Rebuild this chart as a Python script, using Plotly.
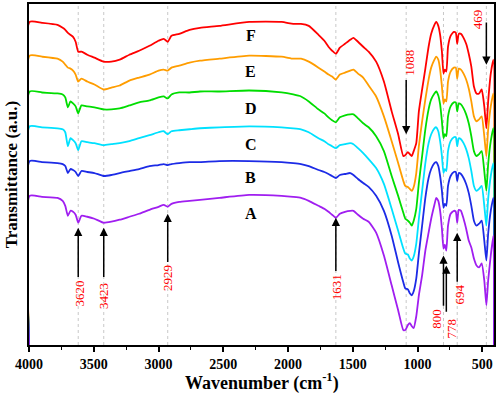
import plotly.graph_objects as go

# Wavenumber grid (cm^-1)
wavenumber = [4000, 3995, 3900, 3780, 3740, 3720, 3700, 3680, 3660, 3640, 3620, 3595, 3550, 3495, 3425,
              3364, 3300, 3225, 3150, 3070, 3000, 2960, 2929, 2900, 2840, 2760, 2680, 2530, 2300, 2050,
              1960, 1900, 1840, 1765, 1720, 1688, 1660, 1631, 1600, 1560, 1520, 1495, 1460, 1420, 1378,
              1320, 1260, 1200, 1150, 1110, 1095, 1075, 1060, 1045, 1030, 1010, 990, 965, 940, 915,
              895, 870, 856, 840, 826, 812, 800, 790, 778, 765, 745, 720, 705, 694, 682,
              665, 645, 625, 605, 585, 565, 545, 525, 505, 485, 469, 455, 435, 415, 410]

# Transmittance (a.u., stacked)
trans_F = [0, 325, 324, 322, 319, 317, 314, 312, 310, 305, 295, 295, 292, 289, 285, 285, 287, 292, 296, 301,
           306, 308, 305, 311, 313, 317, 319, 321, 325, 325, 323, 323, 321, 312, 306, 300, 296, 293, 299, 303,
           307, 309, 305, 300, 295, 285, 265, 235, 212, 190, 191, 194, 192, 190, 195, 203, 235, 257, 278, 300,
           313, 322, 325, 321, 312, 295, 273, 277, 275, 300, 311, 315, 314, 303, 313, 313, 309, 303, 293, 280,
           260, 253, 253, 257, 240, 218, 245, 273, 287, 0]
trans_E = [0, 291, 290, 288, 285, 282, 279, 278, 276, 272, 265, 268, 265, 262, 257, 259, 261, 266, 269, 272,
           276, 277, 276, 279, 281, 284, 286, 288, 291, 290, 288, 288, 285, 279, 275, 272, 270, 267, 272, 274,
           276, 277, 273, 269, 261, 250, 230, 205, 183, 165, 160, 159, 157, 155, 159, 173, 200, 225, 247, 267,
           279, 287, 290, 287, 277, 260, 243, 247, 245, 265, 275, 279, 279, 268, 278, 277, 273, 267, 258, 245,
           230, 225, 227, 230, 210, 190, 217, 240, 253, 0]
trans_D = [0, 255, 254, 253, 252, 249, 239, 245, 243, 240, 233, 241, 240, 239, 237, 237, 238, 241, 244, 246,
           249, 250, 248, 252, 254, 254, 255, 255, 256, 254, 252, 250, 245, 237, 233, 229, 226, 224, 229, 231,
           232, 232, 228, 223, 219, 210, 195, 170, 150, 133, 127, 125, 123, 120, 125, 137, 163, 190, 217, 237,
           247, 253, 255, 251, 242, 225, 208, 212, 210, 230, 240, 244, 244, 235, 243, 242, 238, 232, 223, 210,
           195, 190, 192, 195, 175, 155, 182, 205, 218, 0]
trans_C = [0, 220, 219, 218, 217, 214, 200, 208, 206, 203, 196, 205, 204, 203, 201, 202, 203, 205, 208, 211,
           214, 215, 212, 215, 216, 217, 218, 219, 220, 219, 218, 217, 214, 208, 205, 202, 200, 198, 201, 202,
           203, 202, 198, 193, 187, 178, 162, 137, 115, 97, 92, 91, 87, 85, 89, 102, 127, 155, 183, 203,
           212, 218, 219, 215, 205, 190, 173, 177, 175, 195, 205, 209, 209, 200, 208, 207, 203, 197, 188, 175,
           160, 155, 157, 160, 140, 120, 147, 170, 183, 0]
trans_B = [0, 185, 184, 183, 182, 180, 173, 177, 176, 174, 170, 175, 174, 173, 170, 171, 173, 175, 177, 180,
           181, 182, 181, 182, 183, 184, 184, 185, 185, 184, 183, 182, 180, 176, 174, 172, 170, 168, 171, 172,
           173, 171, 167, 163, 159, 150, 135, 110, 83, 63, 57, 56, 52, 50, 54, 67, 92, 120, 148, 168,
           177, 183, 184, 180, 170, 155, 138, 142, 140, 160, 170, 174, 174, 165, 173, 172, 168, 162, 153, 140,
           125, 120, 122, 125, 105, 85, 112, 135, 148, 0]
trans_A = [0, 150, 149, 148, 145, 140, 130, 135, 134, 131, 123, 130, 129, 127, 123, 124, 126, 129, 132, 136,
           139, 141, 139, 142, 144, 145, 146, 148, 151, 150, 149, 148, 145, 140, 137, 134, 131, 128, 132, 134,
           135, 135, 131, 127, 124, 113, 90, 60, 35, 15, 15, 20, 22, 19, 17, 29, 50, 70, 95, 113,
           127, 141, 148, 145, 135, 117, 97, 101, 95, 120, 132, 135, 134, 123, 136, 135, 127, 117, 105, 98,
           87, 80, 78, 82, 65, 40, 65, 90, 110, 0]

series_names = ["F", "E", "D", "C", "B", "A"]
series_values = [trans_F, trans_E, trans_D, trans_C, trans_B, trans_A]
series_colors = ["#FF0000", "#FF9D00", "#00DD00", "#00E1FF", "#1C2BE6", "#A01EF0"]

# Curve label positions (a.u.)
label_wn = 2287
label_t = {"F": 311, "E": 275, "D": 238, "C": 202, "B": 168, "A": 132}

# Peak markers: wavenumber, arrow head, arrow tail, label centre, label x shift (px)
peak_wn = [3620, 3423, 2929, 1631, 800, 778, 694, 1088, 469]
peak_head = [118, 118, 132, 128, 90, 80, 113, 212, 282]
peak_tail = [67, 67, 82, 73, 38, 32, 62, 268, 326]
peak_text_t = [52, 49, 67, 58, 27, 17, 51, 284, 328]
peak_text_shift = [1, 0, 0, 0, -7, 5, 2, 3, -8]
guide_wn = [3620, 3423, 2929, 1631, 1088, 800, 694, 469]

fig = go.Figure()
for name, vals, col in zip(series_names, series_values, series_colors):
    fig.add_trace(go.Scatter(x=wavenumber, y=vals, mode="lines", name=name,
                             line=dict(color=col, width=1.8, shape="spline", smoothing=0.5),
                             showlegend=False, hoverinfo="skip"))

shapes = []
for w in guide_wn:
    shapes.append(dict(type="line", xref="x", yref="paper", x0=w, x1=w, y0=0, y1=1,
                       line=dict(color="#c8c8c8", width=1, dash="dot"), layer="below"))

annotations = []
for name in series_names:
    annotations.append(dict(x=label_wn, y=label_t[name], xref="x", yref="y", text=f"<b>{name}</b>",
                            showarrow=False, font=dict(family="Liberation Serif", size=16, color="black")))
for w, h, t, tt, sh in zip(peak_wn, peak_head, peak_tail, peak_text_t, peak_text_shift):
    annotations.append(dict(x=w, y=h, ax=w, ay=t, xref="x", yref="y", axref="x", ayref="y",
                            text="", showarrow=True, arrowhead=2, arrowsize=1.1, arrowwidth=1.5,
                            arrowcolor="black", standoff=0, startstandoff=0))
    annotations.append(dict(x=w, y=tt, xref="x", yref="y", text=str(w), textangle=-90, xshift=sh,
                            showarrow=False, font=dict(family="Liberation Serif", size=13, color="#FF0000")))

annotations.append(dict(x=0.5, y=-0.108, xref="paper", yref="paper", showarrow=False,
                        text="<b>Wavenumber (cm<sup>-1</sup>)</b>", xanchor="center", yanchor="middle",
                        font=dict(family="Liberation Serif", size=18, color="black")))
annotations.append(dict(x=-0.037, y=0.5, xref="paper", yref="paper", showarrow=False,
                        text="<b>Transmittance (a.u.)</b>", textangle=-90, xanchor="center", yanchor="middle",
                        font=dict(family="Liberation Serif", size=17, color="black")))

fig.update_layout(
    width=498, height=397,
    margin=dict(l=29, r=3, t=2, b=52),
    paper_bgcolor="white", plot_bgcolor="white",
    shapes=shapes, annotations=annotations,
    xaxis=dict(range=[4000, 410], tick0=0, dtick=500, ticks="outside", ticklen=5, tickwidth=1.5,
               tickcolor="black", showline=True, linecolor="black", linewidth=1.5, mirror=True,
               showgrid=False, zeroline=False, layer="below traces",
               tickfont=dict(family="Liberation Serif", size=14, color="black", weight="bold"),
               minor=dict(dtick=250, tick0=0, ticks="outside", ticklen=3, tickwidth=1.2, tickcolor="black")),
    yaxis=dict(range=[0, 343], showticklabels=False, ticks="", showline=True, linecolor="black",
               linewidth=1.5, mirror=True, showgrid=False, zeroline=False, layer="below traces"),
)

fig.write_html("out.html", config={"displayModeBar": False},
               post_script="document.body.style.margin='0';")
